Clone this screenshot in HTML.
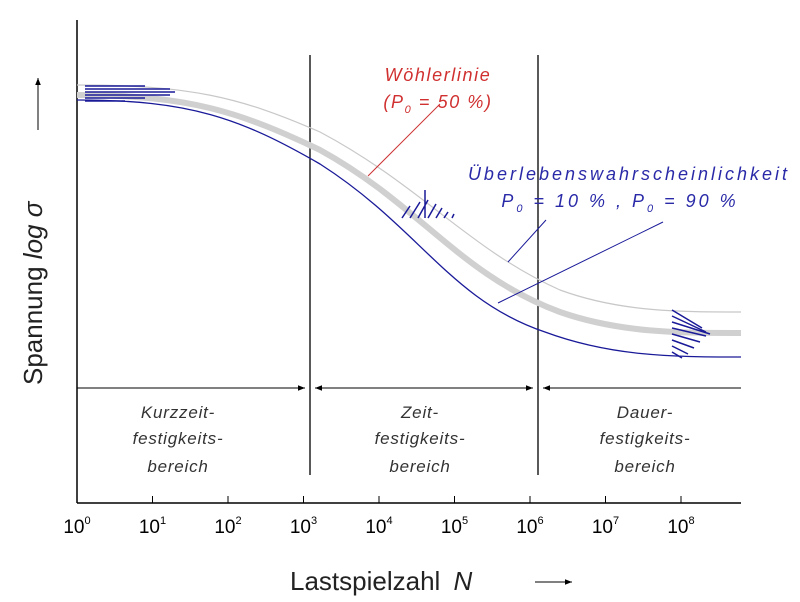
<!DOCTYPE html>
<html><head><meta charset="utf-8"><style>body{margin:0;background:#fff}svg{display:block}</style></head><body>
<svg width="800" height="602" xmlns="http://www.w3.org/2000/svg" font-family="Liberation Sans, sans-serif">
<defs><marker id="a" viewBox="0 0 10 10" refX="10" refY="5" markerWidth="7" markerHeight="7" orient="auto-start-reverse"><path d="M0,1L10,5L0,9z" fill="#000"/></marker></defs>
<line x1="77" y1="20" x2="77" y2="503" stroke="#000" stroke-width="1.5"/>
<line x1="77" y1="503" x2="741" y2="503" stroke="#000" stroke-width="1.5"/>
<g stroke="#000" stroke-width="1">
<line x1="152.5" y1="503" x2="152.5" y2="496"/><line x1="228" y1="503" x2="228" y2="496"/><line x1="303.5" y1="503" x2="303.5" y2="496"/><line x1="379" y1="503" x2="379" y2="496"/><line x1="454.5" y1="503" x2="454.5" y2="496"/><line x1="530" y1="503" x2="530" y2="496"/><line x1="605.5" y1="503" x2="605.5" y2="496"/><line x1="681" y1="503" x2="681" y2="496"/>
<line x1="310" y1="55" x2="310" y2="475" stroke-width="1.3"/><line x1="538" y1="55" x2="538" y2="475" stroke-width="1.3"/>
<line x1="77" y1="388" x2="305" y2="388" marker-end="url(#a)"/>
<line x1="315" y1="388" x2="533" y2="388" marker-start="url(#a)" marker-end="url(#a)"/>
<line x1="543" y1="388" x2="741" y2="388" marker-start="url(#a)"/>
</g>
<path d="M77,85 C190,85 240,97 320,132 C420,185 470,250 560,290 C620,312 680,312 741,312" fill="none" stroke="#c8c8c8" stroke-width="1.2"/>
<path d="M77,95 C190,95 240,112 320,150 C420,205 460,275 560,312 C620,333 680,333 741,333" fill="none" stroke="#d0d0d0" stroke-width="6"/>
<path d="M77,100 C190,100 240,118 320,164 C420,228 450,300 545,332 C610,356 670,357 741,357" fill="none" stroke="#1a1a99" stroke-width="1.3"/>
<g stroke="#1a1a99" stroke-width="1.5">
<path d="M85,86h60M85,89h85M85,92h90M85,95h85M85,98h60M85,101h40"/>
<path d="M425,190v28M402,218l8,-12M410,218l10,-16M418,218l10,-18M428,218l8,-14M436,218l6,-10M444,218l4,-6M452,218l2,-4"/>
<path d="M672,310l30,18M672,316l34,16M672,322l38,12M672,328l34,8M672,334l28,8M672,340l22,8M672,346l16,8M672,352l10,6"/>
</g>
<line x1="368" y1="176" x2="440" y2="104" stroke="#cc3333" stroke-width="1"/>
<line x1="508" y1="262" x2="546" y2="220" stroke="#1a1a99" stroke-width="1"/>
<line x1="498" y1="303" x2="663" y2="222" stroke="#1a1a99" stroke-width="1"/>
<g font-style="italic" font-size="18" fill="#d03030" text-anchor="middle" letter-spacing="1.6"><text x="438" y="81">Wöhlerlinie</text><text x="438" y="108">(P<tspan font-size="11" dy="5">0</tspan><tspan dy="-5"> = 50 %)</tspan></text></g>
<g font-style="italic" font-size="18" fill="#2a2aa8" text-anchor="middle" letter-spacing="3"><text x="629" y="180">Überlebenswahrscheinlichkeit</text><text x="620" y="207">P<tspan font-size="11" dy="5">0</tspan><tspan dy="-5"> = 10 % , P</tspan><tspan font-size="11" dy="5">0</tspan><tspan dy="-5"> = 90 %</tspan></text></g>
<g font-style="italic" font-size="17" fill="#333" text-anchor="middle" letter-spacing="0.8">
<text x="178" y="418">Kurzzeit-</text><text x="178" y="444">festigkeits-</text><text x="178" y="472">bereich</text>
<text x="420" y="418">Zeit-</text><text x="420" y="444">festigkeits-</text><text x="420" y="472">bereich</text>
<text x="645" y="418">Dauer-</text><text x="645" y="444">festigkeits-</text><text x="645" y="472">bereich</text></g>
<g font-size="19" fill="#000" text-anchor="middle">
<text x="77" y="533">10<tspan font-size="11" dy="-9">0</tspan></text><text x="152.5" y="533">10<tspan font-size="11" dy="-9">1</tspan></text><text x="228" y="533">10<tspan font-size="11" dy="-9">2</tspan></text><text x="303.5" y="533">10<tspan font-size="11" dy="-9">3</tspan></text><text x="379" y="533">10<tspan font-size="11" dy="-9">4</tspan></text><text x="454.5" y="533">10<tspan font-size="11" dy="-9">5</tspan></text><text x="530" y="533">10<tspan font-size="11" dy="-9">6</tspan></text><text x="605.5" y="533">10<tspan font-size="11" dy="-9">7</tspan></text><text x="681" y="533">10<tspan font-size="11" dy="-9">8</tspan></text></g>
<text x="290" y="590" font-size="26" fill="#222">Lastspielzahl <tspan font-style="italic" dx="6">N</tspan></text>
<line x1="535" y1="582" x2="572" y2="582" stroke="#000" marker-end="url(#a)"/>
<g transform="translate(42,385) rotate(-90)"><text x="0" y="0" font-size="26" fill="#222">Spannung <tspan font-style="italic">log σ</tspan></text></g>
<line x1="38" y1="130" x2="38" y2="78" stroke="#000" marker-end="url(#a)"/>
</svg>
</body></html>
